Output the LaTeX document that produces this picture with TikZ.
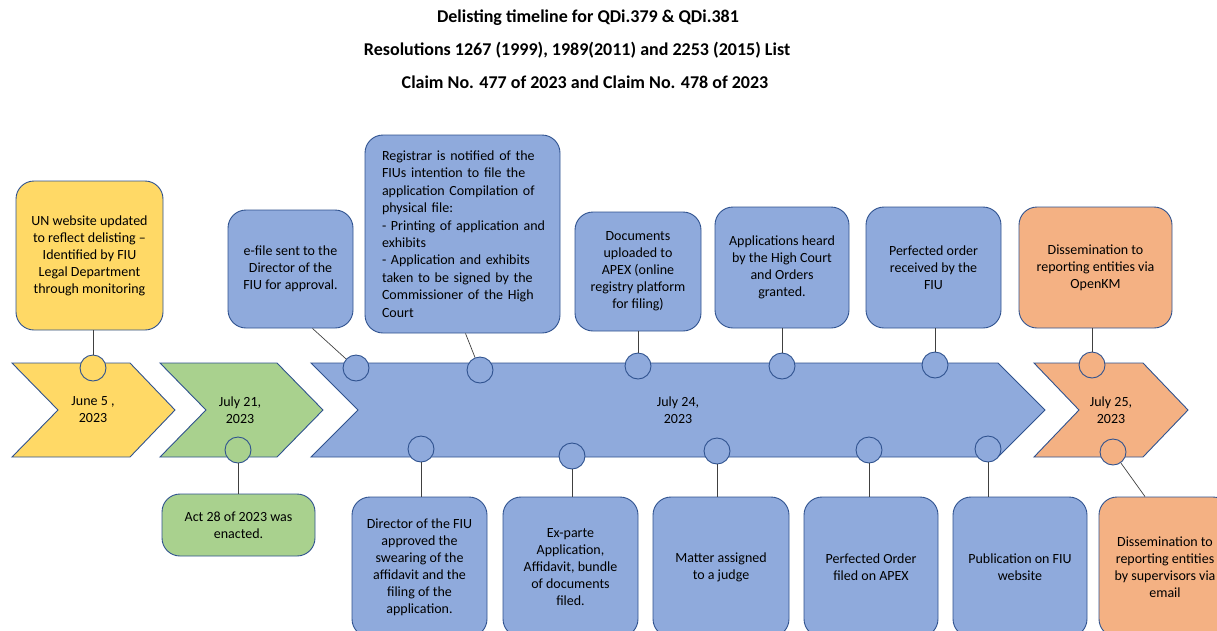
\documentclass[tikz,border=0pt]{standalone}
\usepackage{fontspec}
\setmainfont{Carlito}
\definecolor{gold}{HTML}{FFD966}
\definecolor{leaf}{HTML}{A9D18E}
\definecolor{sky}{HTML}{8FAADC}
\definecolor{peach}{HTML}{F4B183}
\definecolor{edge}{HTML}{2F528F}
\newcommand{\fullline}[1]{\makebox[151pt][s]{#1}}
\begin{document}
\begin{tikzpicture}[x=1pt,y=-1pt,
	box/.style={draw=edge, line width=0.9pt, rounded corners=18pt, align=center,
		inner sep=3pt, font=\fontsize{14}{17}\selectfont},
	dot/.style={circle, draw=edge, line width=0.9pt, minimum size=26pt, inner sep=0pt},
	chev/.style={draw=edge, line width=0.9pt},
	datelbl/.style={align=center, font=\fontsize{14}{17}\selectfont},
	link/.style={draw=black!75, line width=0.7pt},
	titlelbl/.style={font=\fontsize{18}{21}\selectfont\bfseries}]
	\useasboundingbox (0,0) rectangle (1217,630);
	\clip (0,0) rectangle (1217,630);
	% title
	\node[titlelbl] (t1) at (588,18) {Delisting timeline for QDi.379 \& QDi.381};
	\node[titlelbl] (t2) at (577,50) {Resolutions 1267 (1999), 1989(2011) and 2253 (2015) List};
	\node[titlelbl] (t3) at (585,82) {Claim No. 477 of 2023 and Claim No. 478 of 2023};
	% chevrons
	\draw[chev, fill=gold] (12,363) -- (130,363) -- (175,410) -- (130,457) -- (12,457) -- (58,410) -- cycle;
	\draw[chev, fill=leaf] (160,363) -- (277,363) -- (323,410) -- (277,457) -- (160,457) -- (206,410) -- cycle;
	\draw[chev, fill=sky] (311,363) -- (998,363) -- (1045,410) -- (998,457) -- (311,457) -- (358,410) -- cycle;
	\draw[chev, fill=peach] (1034,363) -- (1143,363) -- (1188,410) -- (1143,457) -- (1034,457) -- (1079,410) -- cycle;
	\node[datelbl] (d1) at (93,410) {June 5 ,\\2023};
	\node[datelbl] (d2) at (240,410) {July 21,\\2023};
	\node[datelbl] (d3) at (678,410) {July 24,\\2023};
	\node[datelbl] (d4) at (1111,410) {July 25,\\2023};
	% boxes above
	\node[box, fill=gold, minimum width=147pt, minimum height=149pt] (un) at (89.5,255.5)
		{UN website updated\\to reflect delisting --\\Identified by FIU\\Legal Department\\through monitoring};
	\node[box, fill=sky, minimum width=125pt, minimum height=118pt] (efile) at (290.5,269)
		{e-file sent to the\\Director of the\\FIU for approval.};
	\node[box, fill=sky, minimum width=195pt, minimum height=198pt, text width=161pt, align=left,
		font=\fontsize{14}{17.4}\selectfont] (reg) at (462.5,234)
		{\fullline{Registrar is notified of the}\\\fullline{FIUs intention to file the}\\
		\fullline{application Compilation of}\\physical file:\\\mbox{- Printing of application and}\\exhibits\\
		- Application and exhibits\\taken to be signed by the\\Commissioner of the High\\Court};
	\node[box, fill=sky, minimum width=126pt, minimum height=119pt] (docs) at (638,271.5)
		{Documents\\uploaded to\\APEX (online\\registry platform\\for filing)};
	\node[box, fill=sky, minimum width=134pt, minimum height=121pt] (heard) at (782,267.5)
		{Applications heard\\by the High Court\\and Orders\\granted.};
	\node[box, fill=sky, minimum width=135pt, minimum height=121pt] (recv) at (933.5,267.5)
		{Perfected order\\received by the\\FIU};
	\node[box, fill=peach, minimum width=153pt, minimum height=121pt] (openkm) at (1095.5,267.5)
		{Dissemination to\\reporting entities via\\OpenKM};
	% boxes below
	\node[box, fill=leaf, minimum width=153pt, minimum height=62pt] (act) at (238.5,525)
		{Act 28 of 2023 was\\enacted.};
	\node[box, fill=sky, minimum width=135pt, minimum height=140pt] (dir) at (419.5,567)
		{Director of the FIU\\approved the\\swearing of the\\affidavit and the\\filing of the\\application.};
	\node[box, fill=sky, minimum width=135pt, minimum height=140pt] (exparte) at (570.5,567)
		{Ex-parte\\Application,\\Affidavit, bundle\\of documents\\filed.};
	\node[box, fill=sky, minimum width=136pt, minimum height=140pt] (matter) at (721,567)
		{Matter assigned\\to a judge};
	\node[box, fill=sky, minimum width=134pt, minimum height=140pt] (filed) at (871,567)
		{Perfected Order\\filed on APEX};
	\node[box, fill=sky, minimum width=134pt, minimum height=140pt] (pub) at (1020,567)
		{Publication on FIU\\website};
	\node[box, fill=peach, minimum width=132pt, minimum height=140pt] (email) at (1165,567)
		{Dissemination to\\reporting entities\\by supervisors via\\email};
	% markers on the arrows
	\node[dot, fill=gold] (cun) at (93,368) {};
	\node[dot, fill=sky] (cefile) at (356,368) {};
	\node[dot, fill=sky] (creg) at (480,370) {};
	\node[dot, fill=sky] (cdocs) at (638,366) {};
	\node[dot, fill=sky] (cheard) at (782,366) {};
	\node[dot, fill=sky] (crecv) at (935,365) {};
	\node[dot, fill=peach] (copenkm) at (1092,365) {};
	\node[dot, fill=leaf] (cact) at (238,450) {};
	\node[dot, fill=sky] (cdir) at (421,449) {};
	\node[dot, fill=sky] (cex) at (572,456) {};
	\node[dot, fill=sky] (cmatter) at (717,451) {};
	\node[dot, fill=sky] (cfiled) at (869,450) {};
	\node[dot, fill=sky] (cpub) at (988,449) {};
	\node[dot, fill=peach] (cemail) at (1113,452) {};
	% connectors
	\draw[link] (un.south -| cun) -- (cun);
	\draw[link] ([xshift=22pt]efile.south) -- (cefile);
	\draw[link] ([xshift=3pt]reg.south) -- (creg);
	\draw[link] (docs.south -| cdocs) -- (cdocs);
	\draw[link] (heard.south -| cheard) -- (cheard);
	\draw[link] (recv.south -| crecv) -- (crecv);
	\draw[link] (openkm.south -| copenkm) -- (copenkm);
	\draw[link] (cact) -- (act.north -| cact);
	\draw[link] (cdir) -- (dir.north -| cdir);
	\draw[link] (cex) -- (exparte.north -| cex);
	\draw[link] (cmatter) -- (matter.north -| cmatter);
	\draw[link] (cfiled) -- (filed.north -| cfiled);
	\draw[link] (cpub) -- (pub.north -| cpub);
	\draw[link] (cemail) -- ([xshift=-20pt]email.north);
\end{tikzpicture}
\end{document}
